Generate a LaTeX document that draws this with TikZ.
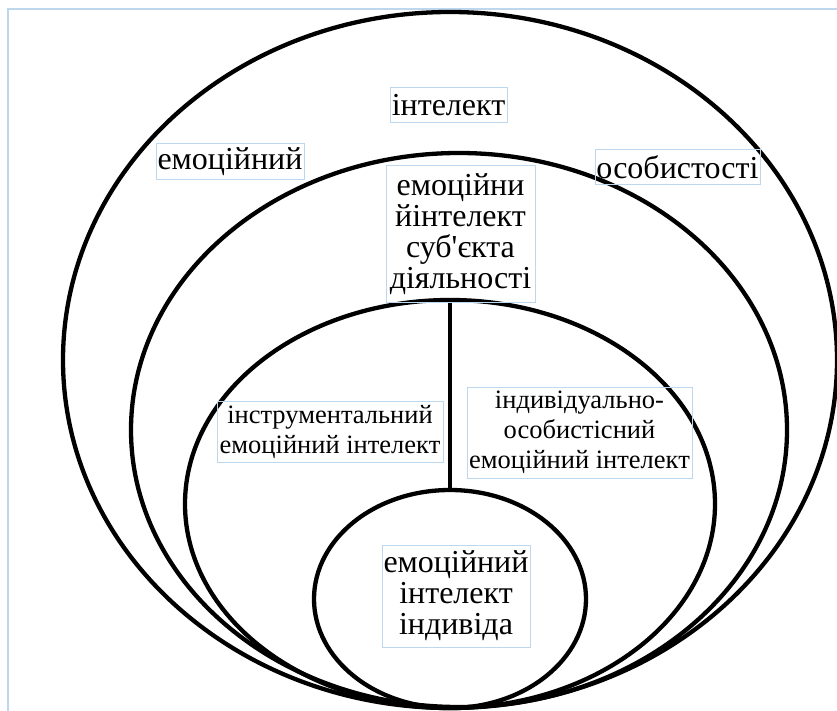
\documentclass[tikz,border=0pt]{standalone}
\usepackage{fontspec}
\setmainfont{Liberation Serif}[Ligatures=TeXOff]
\usepackage{xcolor}
\usetikzlibrary{shapes.geometric}
\definecolor{boxblue}{RGB}{189,215,238}

\begin{document}
\begin{tikzpicture}[x=1pt,y=-1pt,
      ring/.style={draw, ellipse, line width=4.3pt, inner sep=0pt},
      lbl/.style={draw=boxblue, line width=1pt, inner sep=0pt, align=center,
      font=\fontsize{32}{31}\selectfont},
      sm/.style={font=\fontsize{26.5}{30}\selectfont}]
    \useasboundingbox (0,0) rectangle (837,711);
    \draw[boxblue, line width=1.5pt] (8,9) rectangle (870,740);
    % nested rings, all touching at the bottom
    \node[ring, minimum width=774pt, minimum height=696pt] (pers) at (450,360) {};
    \node[ring, minimum width=656pt, minimum height=554pt] (subj) at (459,430) {};
    \node[ring, minimum width=530pt, minimum height=408pt] (mid) at (450,504) {};
    \node[ring, minimum width=272pt, minimum height=218pt] (indiv) at (450,599) {};
    \draw[line width=4.3pt] (mid.north) -- (indiv.north);
    % labels
    \node[lbl, minimum width=117pt, minimum height=35pt] (intel) at (448.5,105.5) {інтелект};
    \node[lbl, minimum width=148pt, minimum height=36pt] (emo) at (230,162) {емоційний};
    \node[lbl, minimum width=165pt, minimum height=35pt] (osob) at (677.5,167.5) {особистості};
    \node[lbl, minimum width=149pt, minimum height=136pt] (subjlbl) at (460.5,234)
      {емоційни\\йінтелект\\суб'єкта\\діяльності};
    \node[lbl, sm, minimum width=226pt, minimum height=61pt] (instr) at (330,431.5)
      {інструментальний\\емоційний інтелект};
    \node[lbl, sm, minimum width=225pt, minimum height=91pt] (indos) at (579.5,432.5)
      {індивідуально-\\особистісний\\емоційний інтелект};
    \node[lbl, minimum width=148pt, minimum height=102pt] (indlbl) at (456,596)
      {емоційний\\інтелект\\індивіда};
  \end{tikzpicture}
\end{document}
